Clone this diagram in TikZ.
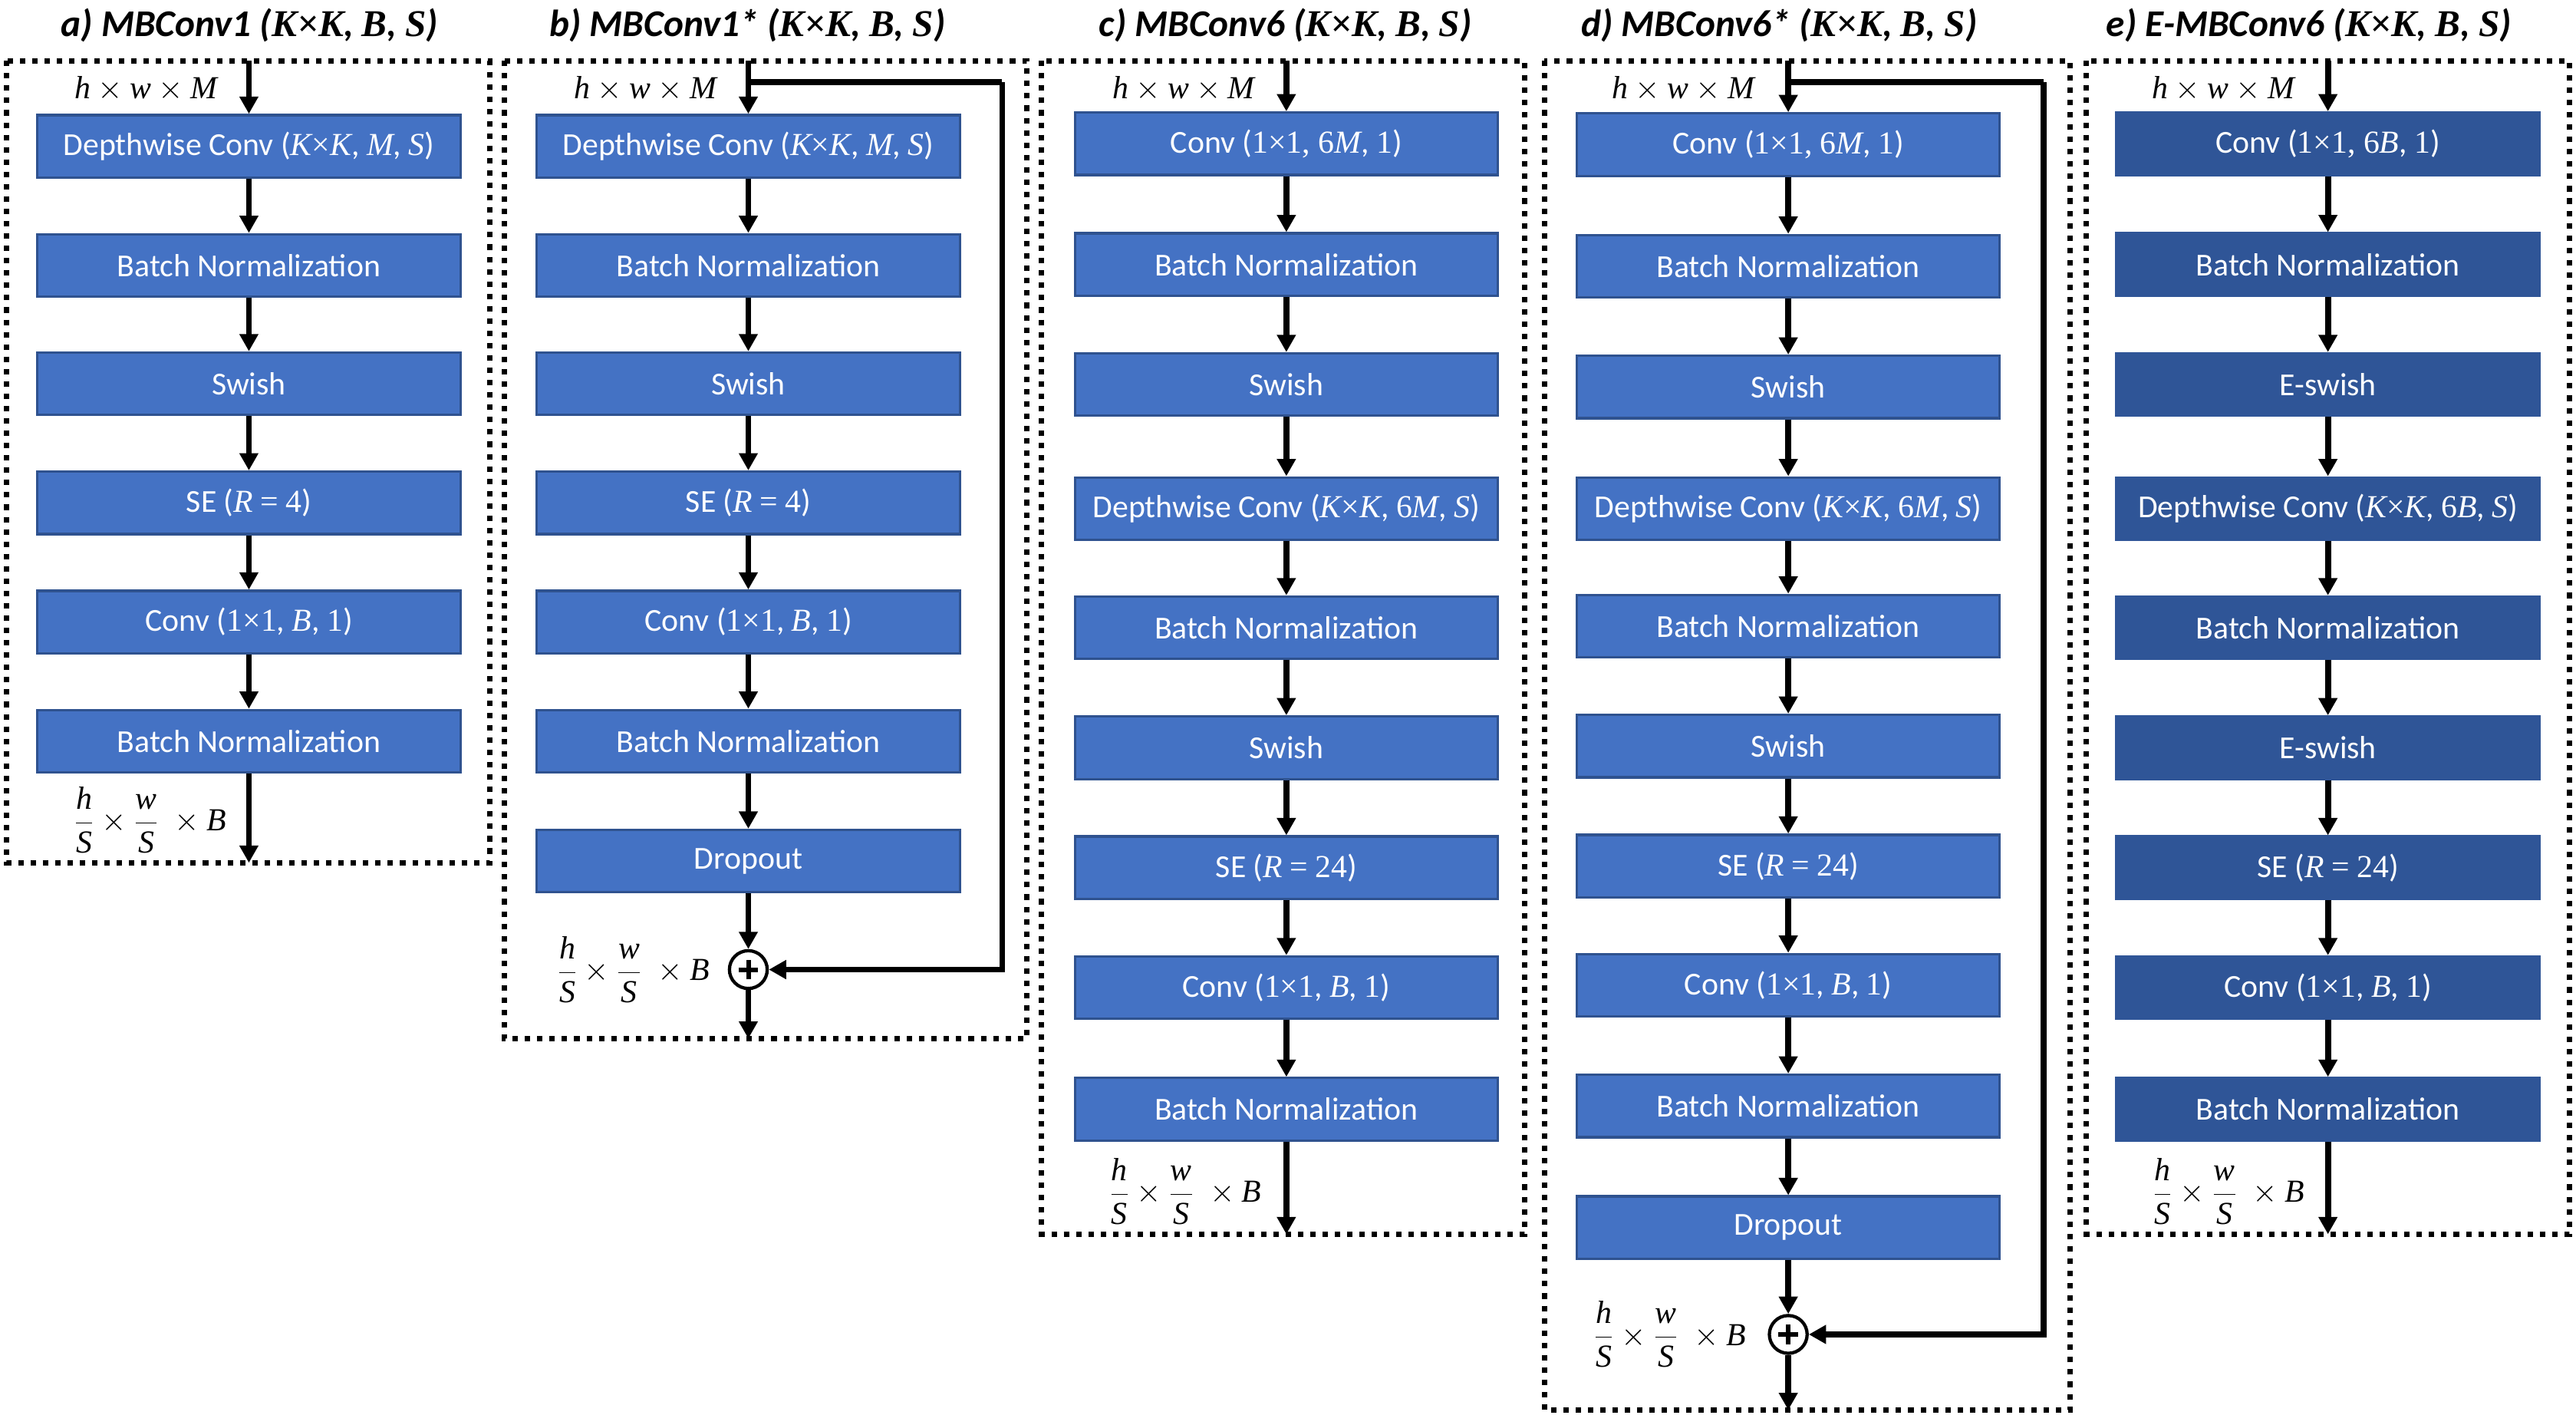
\RequirePackage{fix-cm}
\documentclass[tikz,border=0pt]{standalone}
\usepackage{fontspec}
\setmainfont{Carlito}
\newfontfamily\lsr{Liberation Serif}
\usetikzlibrary{arrows.meta}
\definecolor{boxfill}{HTML}{4472C4}
\definecolor{boxline}{HTML}{2F528F}
\definecolor{boxE}{HTML}{2F5597}
\newcommand\mi[1]{{\lsr\itshape #1}}
\newcommand\mr[1]{{\lsr #1}}
\newcommand\mbi[1]{{\lsr\bfseries\itshape #1}}
\newcommand\mbr[1]{{\lsr\bfseries #1}}
\newcommand\vv[1]{\mbox{\mi{#1}}}
\newcommand\boxfont{\fontsize{19.5}{23}\selectfont}
\newcommand\ttlfont{\fontsize{23}{27}\selectfont\bfseries\itshape}
\newcommand\inlab{$\vv{h}\times\vv{w}\times\vv{M}$}
\newcommand\outlab{$\displaystyle\frac{\vv{h}}{\vv{S}}\times\frac{\vv{w}}{\vv{S}}\;\times\vv{B}$}
\newcommand\tkk{(\mbi{K}\mbr{×}\mbi{K}, \mbi{B}, \mbi{S})}
\begin{document}
\begin{tikzpicture}[x=1pt,y=-1pt,
  blk/.style={rectangle, draw=boxline, fill=boxfill, line width=1.5pt,
    minimum width=257.5pt, minimum height=38pt, inner sep=0pt, text=white, font=\boxfont},
  blkE/.style={blk, draw=boxE, fill=boxE},
  arr/.style={line width=3.6pt, -{Triangle[width=11pt,length=10.5pt]}},
  skip/.style={line width=3.6pt},
  frame/.style={draw, line width=3.3pt, dash pattern=on 3.3pt off 4.2pt},
  ttl/.style={anchor=base, inner sep=0pt, font=\ttlfont},
  lab/.style={inner sep=0pt, font=\boxfont},
  plus/.style={circle, draw, line width=2pt, minimum size=23pt, inner sep=0pt, fill=white,
    path picture={\draw[line width=2.8pt] ([xshift=-6pt]path picture bounding box.center) -- ([xshift=6pt]path picture bounding box.center);
                  \draw[line width=2.8pt] ([yshift=-6pt]path picture bounding box.center) -- ([yshift=6pt]path picture bounding box.center);}}
]
\fill[white] (0,0) rectangle (1568,866.7);
\useasboundingbox (0,0) rectangle (1568,866.7);

% ---------- titles
\node[ttl] (ta) at (152,22) {a) MBConv1 \tkk};
\node[ttl] (tb) at (455,22) {b) MBConv1* \tkk};
\node[ttl] (tc) at (782.5,22) {c) MBConv6 \tkk};
\node[ttl] (td) at (1083,22) {d) MBConv6* \tkk};
\node[ttl] (te) at (1405.5,22) {e) E-MBConv6 \tkk};

% ---------- frames
\draw[frame] (4,37) rectangle (298,525);
\draw[frame] (307,37) rectangle (625,632);
\draw[frame] (634,37) rectangle (928,751);
\draw[frame] (940,37) rectangle (1260,858);
\draw[frame] (1270,37) rectangle (1564,751);

% ---------- panel a
\node[blk] (a1) at (151.5,89) {Depthwise Conv (\mi{K}\mr{×}\mi{K}, \mi{M}, \mi{S})};
\node[blk] (a2) at (151.5,161.5) {Batch Normalization};
\node[blk] (a3) at (151.5,233.5) {Swish};
\node[blk] (a4) at (151.5,306) {SE (\mi{R} \mr{=} \mr{4})};
\node[blk] (a5) at (151.5,378.5) {Conv (\mr{1×1}, \mi{B}, \mr{1})};
\node[blk] (a6) at (151.5,451) {Batch Normalization};
\coordinate (ain) at (151.5,37);
\coordinate (aout) at (151.5,525);
\node[lab, anchor=base east] (ail) at (132.5,60) {\inlab};
\node[lab, anchor=east] (aol) at (138,499) {\outlab};
\draw[arr] (ain) -- (a1.north);
\draw[arr] (a1) -- (a2);
\draw[arr] (a2) -- (a3);
\draw[arr] (a3) -- (a4);
\draw[arr] (a4) -- (a5);
\draw[arr] (a5) -- (a6);
\draw[arr] (a6) -- (aout);

% ---------- panel b
\node[blk] (b1) at (455.5,89) {Depthwise Conv (\mi{K}\mr{×}\mi{K}, \mi{M}, \mi{S})};
\node[blk] (b2) at (455.5,161.5) {Batch Normalization};
\node[blk] (b3) at (455.5,233.5) {Swish};
\node[blk] (b4) at (455.5,306) {SE (\mi{R} \mr{=} \mr{4})};
\node[blk] (b5) at (455.5,378.5) {Conv (\mr{1×1}, \mi{B}, \mr{1})};
\node[blk] (b6) at (455.5,451) {Batch Normalization};
\node[blk] (b7) at (455.5,524) {Dropout};
\node[plus] (bp) at (455.5,590) {};
\coordinate (bin) at (455.5,37);
\coordinate (bs) at (455.5,50);
\coordinate (bsr) at (610,50);
\coordinate (bout) at (455.5,632);
\node[lab, anchor=base east] (bil) at (436.5,60) {\inlab};
\node[lab, anchor=east] (bol) at (432,590) {\outlab};
\draw[arr] (bin) -- (b1.north);
\draw[skip] (bs) -- (bsr);
\draw[arr] (bsr) |- (bp.east);
\draw[arr] (b1) -- (b2);
\draw[arr] (b2) -- (b3);
\draw[arr] (b3) -- (b4);
\draw[arr] (b4) -- (b5);
\draw[arr] (b5) -- (b6);
\draw[arr] (b6) -- (b7);
\draw[arr] (b7) -- (bp);
\draw[arr] (bp) -- (bout);

% ---------- panel c
\node[blk] (c1) at (783,87.5) {Conv (\mr{1×1, 6}\mi{M}, \mr{1})};
\node[blk] (c2) at (783,161) {Batch Normalization};
\node[blk] (c3) at (783,234) {Swish};
\node[blk] (c4) at (783,309.5) {Depthwise Conv (\mi{K}\mr{×}\mi{K}, \mr{6}\mi{M}, \mi{S})};
\node[blk] (c5) at (783,382) {Batch Normalization};
\node[blk] (c6) at (783,455) {Swish};
\node[blk] (c7) at (783,528) {SE (\mi{R} \mr{=} \mr{24})};
\node[blk] (c8) at (783,601) {Conv (\mr{1×1}, \mi{B}, \mr{1})};
\node[blk] (c9) at (783,675) {Batch Normalization};
\coordinate (cin) at (783,37);
\coordinate (cout) at (783,751);
\node[lab, anchor=base east] (cil) at (764,60) {\inlab};
\node[lab, anchor=east] (col) at (768,725) {\outlab};
\draw[arr] (cin) -- (c1.north);
\draw[arr] (c1) -- (c2);
\draw[arr] (c2) -- (c3);
\draw[arr] (c3) -- (c4);
\draw[arr] (c4) -- (c5);
\draw[arr] (c5) -- (c6);
\draw[arr] (c6) -- (c7);
\draw[arr] (c7) -- (c8);
\draw[arr] (c8) -- (c9);
\draw[arr] (c9) -- (cout);

% ---------- panel d
\node[blk] (d1) at (1088.5,88) {Conv (\mr{1×1, 6}\mi{M}, \mr{1})};
\node[blk] (d2) at (1088.5,162) {Batch Normalization};
\node[blk] (d3) at (1088.5,235.5) {Swish};
\node[blk] (d4) at (1088.5,309.5) {Depthwise Conv (\mi{K}\mr{×}\mi{K}, \mr{6}\mi{M}, \mi{S})};
\node[blk] (d5) at (1088.5,381) {Batch Normalization};
\node[blk] (d6) at (1088.5,454) {Swish};
\node[blk] (d7) at (1088.5,527) {SE (\mi{R} \mr{=} \mr{24})};
\node[blk] (d8) at (1088.5,599.5) {Conv (\mr{1×1}, \mi{B}, \mr{1})};
\node[blk] (d9) at (1088.5,673) {Batch Normalization};
\node[blk] (d10) at (1088.5,747) {Dropout};
\node[plus] (dp) at (1088.5,812) {};
\coordinate (din) at (1088.5,37);
\coordinate (ds) at (1088.5,50);
\coordinate (dsr) at (1244,50);
\coordinate (dout) at (1088.5,858);
\node[lab, anchor=base east] (dil) at (1068,60) {\inlab};
\node[lab, anchor=east] (dol) at (1063,812) {\outlab};
\draw[arr] (din) -- (d1.north);
\draw[skip] (ds) -- (dsr);
\draw[arr] (dsr) |- (dp.east);
\draw[arr] (d1) -- (d2);
\draw[arr] (d2) -- (d3);
\draw[arr] (d3) -- (d4);
\draw[arr] (d4) -- (d5);
\draw[arr] (d5) -- (d6);
\draw[arr] (d6) -- (d7);
\draw[arr] (d7) -- (d8);
\draw[arr] (d8) -- (d9);
\draw[arr] (d9) -- (d10);
\draw[arr] (d10) -- (dp);
\draw[arr] (dp) -- (dout);

% ---------- panel e
\node[blkE] (e1) at (1417,87.5) {Conv (\mr{1×1, 6}\mi{B}, \mr{1})};
\node[blkE] (e2) at (1417,161) {Batch Normalization};
\node[blkE] (e3) at (1417,234) {E-swish};
\node[blkE] (e4) at (1417,309.5) {Depthwise Conv (\mi{K}\mr{×}\mi{K}, \mr{6}\mi{B}, \mi{S})};
\node[blkE] (e5) at (1417,382) {Batch Normalization};
\node[blkE] (e6) at (1417,455) {E-swish};
\node[blkE] (e7) at (1417,528) {SE (\mi{R} \mr{=} \mr{24})};
\node[blkE] (e8) at (1417,601) {Conv (\mr{1×1}, \mi{B}, \mr{1})};
\node[blkE] (e9) at (1417,675) {Batch Normalization};
\coordinate (ein) at (1417,37);
\coordinate (eout) at (1417,751);
\node[lab, anchor=base east] (eil) at (1397,60) {\inlab};
\node[lab, anchor=east] (eol) at (1403,725) {\outlab};
\draw[arr] (ein) -- (e1.north);
\draw[arr] (e1) -- (e2);
\draw[arr] (e2) -- (e3);
\draw[arr] (e3) -- (e4);
\draw[arr] (e4) -- (e5);
\draw[arr] (e5) -- (e6);
\draw[arr] (e6) -- (e7);
\draw[arr] (e7) -- (e8);
\draw[arr] (e8) -- (e9);
\draw[arr] (e9) -- (eout);
\end{tikzpicture}
\end{document}
